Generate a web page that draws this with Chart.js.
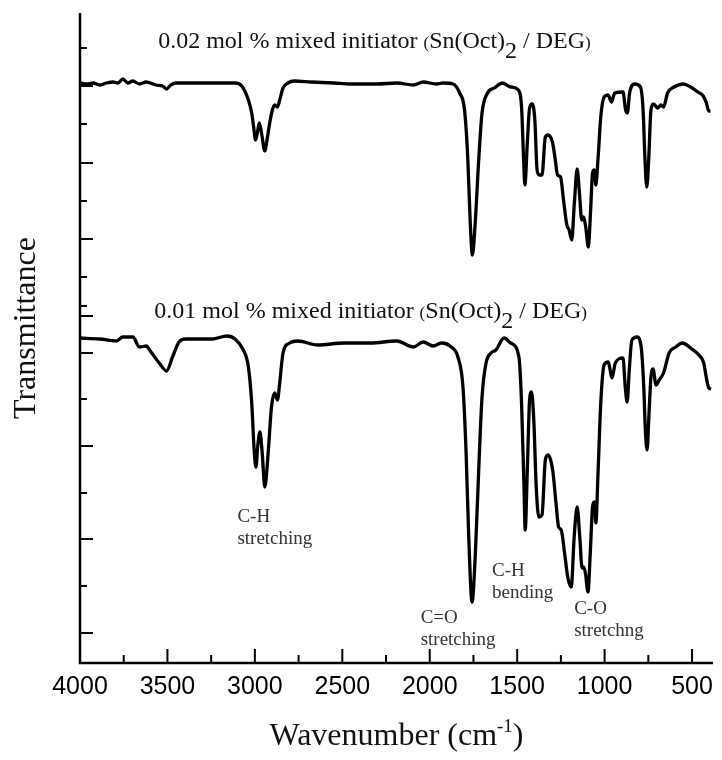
<!DOCTYPE html>
<html>
<head>
<meta charset="utf-8">
<script src="https://cdn.jsdelivr.net/npm/chart.js@4.4.1/dist/chart.umd.min.js"></script>
<style>
html, body { margin: 0; padding: 0; background: #fff; }
#wrap { width: 722px; height: 760px; }
</style>
</head>
<body>
<div id="wrap"><canvas id="ftir"></canvas></div>
<script>
// 0.02 mol % spectrum (upper trace), arbitrary offset transmittance units
const topWavenumber = [4000, 3962, 3925, 3887, 3849, 3811, 3783, 3755, 3726, 3698, 3660, 3622, 3566, 3528, 3505, 3481, 3453, 3339, 3207, 3113,
    3075, 3037, 3018, 3007, 2996, 2985, 2975, 2962, 2943, 2928, 2915, 2900, 2886, 2871, 2858, 2839, 2811, 2773, 2679, 2547,
    2452, 2301, 2188, 2094, 2037, 1961, 1924, 1867, 1829, 1801, 1782, 1769, 1756, 1739, 1720, 1701, 1669, 1631, 1584, 1537,
    1493, 1475, 1463, 1456, 1442, 1429, 1414, 1399, 1386, 1373, 1358, 1339, 1324, 1297, 1282, 1269, 1252, 1235, 1216, 1203,
    1188, 1173, 1157, 1144, 1131, 1120, 1108, 1093, 1080, 1069, 1059, 1050, 1037, 1022, 1003, 980, 961, 942, 895, 880,
    870, 857, 829, 795, 780, 769, 759, 748, 735, 720, 697, 678, 663, 640, 603, 550, 508, 467, 436, 418, 404, 395];
const topTransmittance = [580, 579, 580, 578, 580, 581, 580, 584, 580, 582, 579, 581, 578, 577, 574, 578, 580, 580, 580, 580,
    577, 563, 550, 536, 523, 531, 540, 530, 512, 526, 540, 553, 558, 556, 563, 575, 580, 582, 581, 580,
    579, 579, 580, 578, 581, 579, 580, 579, 570, 553, 503, 443, 408, 443, 503, 550, 570, 575, 580, 576,
    573, 556, 503, 478, 520, 555, 559, 543, 493, 488, 488, 526, 528, 520, 503, 488, 486, 463, 438, 433,
    423, 460, 494, 470, 443, 446, 436, 416, 453, 490, 493, 478, 506, 546, 566, 568, 561, 570, 571, 553,
    550, 570, 579, 576, 553, 503, 476, 503, 553, 559, 555, 558, 556, 570, 576, 579, 576, 571, 567, 560, 552, 552];

// 0.01 mol % spectrum (lower trace)
const bottomWavenumber = [4000, 3887, 3792, 3755, 3698, 3660, 3622, 3594, 3547, 3505, 3471, 3434, 3396, 3245, 3160, 3113, 3066, 3037, 3018, 3003,
    2994, 2983, 2971, 2958, 2943, 2924, 2905, 2886, 2871, 2858, 2839, 2801, 2754, 2641, 2490, 2339, 2188, 2094, 2037, 1980,
    1933, 1877, 1839, 1810, 1792, 1777, 1758, 1739, 1720, 1701, 1678, 1650, 1622, 1575, 1537, 1490, 1475, 1461, 1454, 1442,
    1429, 1418, 1405, 1391, 1376, 1358, 1339, 1324, 1297, 1278, 1263, 1248, 1229, 1210, 1191, 1174, 1157, 1142, 1129, 1120,
    1110, 1095, 1082, 1069, 1059, 1050, 1037, 1022, 1003, 980, 957, 939, 895, 882, 871, 859, 844, 814, 791, 776,
    767, 757, 746, 735, 723, 706, 688, 663, 631, 593, 555, 508, 461, 433, 418, 404, 391];
const bottomTransmittance = [325, 324, 322, 326, 326, 316, 317, 311, 300, 292, 306, 321, 324, 324, 327, 324, 313, 296, 260, 210,
    196, 218, 231, 210, 176, 210, 256, 270, 263, 280, 310, 320, 322, 318, 320, 320, 322, 316, 321, 317,
    320, 316, 306, 276, 210, 126, 61, 110, 193, 266, 300, 310, 313, 325, 320, 306, 260, 176, 133, 193,
    263, 271, 243, 176, 146, 148, 203, 208, 193, 160, 136, 133, 110, 85, 76, 126, 156, 126, 95, 96,
    90, 71, 110, 156, 161, 140, 193, 260, 298, 301, 285, 300, 305, 276, 261, 293, 323, 326, 316, 276,
    233, 213, 250, 286, 294, 278, 283, 290, 310, 316, 320, 315, 308, 300, 285, 275, 274];

const xTickValues = [4000, 3500, 3000, 2500, 2000, 1500, 1000, 500];
const xMinorTicks = [3750, 3250, 2750, 2250, 1750, 1250, 750];
const yMajorTicks = [577, 500, 424, 347, 310, 217, 124, 30];
const yMinorTicks = [615, 539, 462, 386, 357, 264, 170, 77];

const serif = "'Liberation Serif', 'Times New Roman', serif";

// text placed in data coordinates (wavenumber, transmittance)
const headings = [
    {wn: 3553, t: 615, runs: ['0.02 mol % mixed initiator ']},
    {wn: 3575, t: 345, runs: ['0.01 mol % mixed initiator ']}
];
const bandNotes = [
    {wn: 3100, t: 141, lines: ['C-H', 'stretching']},
    {wn: 2052, t: 40, lines: ['C=O', 'stretching']},
    {wn: 1644, t: 87, lines: ['C-H', 'bending']},
    {wn: 1174, t: 49, lines: ['C-O', 'stretchng']}
];

function drawRuns(ctx, x, y, runs) {
    runs.forEach(function(r) {
        ctx.font = r.size + 'px ' + serif;
        ctx.fillText(r.text, x, y + (r.dy || 0));
        x += ctx.measureText(r.text).width;
    });
}

function runsWidth(ctx, runs) {
    let w = 0;
    runs.forEach(function(r) {
        ctx.font = r.size + 'px ' + serif;
        w += ctx.measureText(r.text).width;
    });
    return w;
}

const decorations = {
    id: 'decorations',
    afterDraw(chart) {
        const ctx = chart.ctx;
        const xs = chart.scales.x, ys = chart.scales.y;
        const area = chart.chartArea;
        ctx.save();
        ctx.strokeStyle = '#000';
        ctx.lineCap = 'butt';

        // axis lines
        ctx.lineWidth = 2.5;
        ctx.beginPath();
        ctx.moveTo(area.left, area.top);
        ctx.lineTo(area.left, area.bottom);
        ctx.lineTo(area.right, area.bottom);
        ctx.stroke();

        // inward ticks
        ctx.lineWidth = 2;
        ctx.beginPath();
        xTickValues.forEach(function(v) {
            const px = xs.getPixelForValue(v);
            ctx.moveTo(px, area.bottom);
            ctx.lineTo(px, area.bottom - 14);
        });
        xMinorTicks.forEach(function(v) {
            const px = xs.getPixelForValue(v);
            ctx.moveTo(px, area.bottom);
            ctx.lineTo(px, area.bottom - 8);
        });
        yMajorTicks.forEach(function(v) {
            const py = ys.getPixelForValue(v);
            ctx.moveTo(area.left, py);
            ctx.lineTo(area.left + 13, py);
        });
        yMinorTicks.forEach(function(v) {
            const py = ys.getPixelForValue(v);
            ctx.moveTo(area.left, py);
            ctx.lineTo(area.left + 7, py);
        });
        ctx.stroke();

        // spectrum headings
        ctx.fillStyle = '#111';
        ctx.textBaseline = 'alphabetic';
        ctx.textAlign = 'left';
        headings.forEach(function(h) {
            drawRuns(ctx, xs.getPixelForValue(h.wn), ys.getPixelForValue(h.t), [
                {text: h.runs[0], size: 24},
                {text: '(', size: 17},
                {text: 'Sn(Oct)', size: 24},
                {text: '2', size: 24, dy: 10},
                {text: ' / DEG', size: 24},
                {text: ')', size: 17}
            ]);
        });

        // band assignments
        ctx.fillStyle = '#333';
        ctx.font = '19px ' + serif;
        bandNotes.forEach(function(n) {
            const px = xs.getPixelForValue(n.wn);
            const py = ys.getPixelForValue(n.t);
            n.lines.forEach(function(line, i) {
                ctx.fillText(line, px, py + i * 22);
            });
        });

        // axis titles
        ctx.fillStyle = '#111';
        const xRuns = [
            {text: 'Wavenumber (cm', size: 32},
            {text: '-1', size: 19, dy: -13},
            {text: ')', size: 32}
        ];
        const cx = (area.left + area.right) / 2;
        drawRuns(ctx, cx - runsWidth(ctx, xRuns) / 2, 745, xRuns);

        ctx.translate(35, 328);
        ctx.rotate(-Math.PI / 2);
        ctx.textAlign = 'center';
        ctx.font = '32px ' + serif;
        ctx.fillText('Transmittance', 0, 0);
        ctx.restore();
    }
};

function toPoints(xsArr, ysArr) {
    return xsArr.map(function(x, i) { return {x: x, y: ysArr[i]}; });
}

const lineStyle = {
    borderColor: '#000',
    borderWidth: 3.3,
    pointRadius: 0,
    fill: false,
    cubicInterpolationMode: 'monotone'
};

new Chart(document.getElementById('ftir'), {
    type: 'line',
    data: {
        datasets: [
            Object.assign({label: '0.02 mol %', data: toPoints(topWavenumber, topTransmittance)}, lineStyle),
            Object.assign({label: '0.01 mol %', data: toPoints(bottomWavenumber, bottomTransmittance)}, lineStyle)
        ]
    },
    options: {
        responsive: true,
        maintainAspectRatio: false,
        animation: false,
        layout: {
            autoPadding: false,
            padding: {top: 13, right: 3, bottom: 0, left: 0}
        },
        plugins: {
            legend: {display: false},
            tooltip: {enabled: false}
        },
        scales: {
            x: {
                type: 'linear',
                reverse: true,
                min: 380,
                max: 4000,
                afterBuildTicks: function(scale) {
                    scale.ticks = xTickValues.map(function(v) { return {value: v}; });
                },
                afterFit: function(scale) { scale.height = 97; },
                ticks: {
                    color: '#000',
                    padding: 9,
                    maxRotation: 0,
                    autoSkip: false,
                    font: {family: "'Liberation Sans', Arial, sans-serif", size: 25},
                    callback: function(value) { return String(value); }
                },
                grid: {display: false, drawTicks: false},
                border: {display: false}
            },
            y: {
                min: 0,
                max: 650,
                afterFit: function(scale) { scale.width = 80; },
                ticks: {display: false},
                grid: {display: false, drawTicks: false},
                border: {display: false}
            }
        }
    },
    plugins: [decorations]
});
</script>
</body>
</html>
